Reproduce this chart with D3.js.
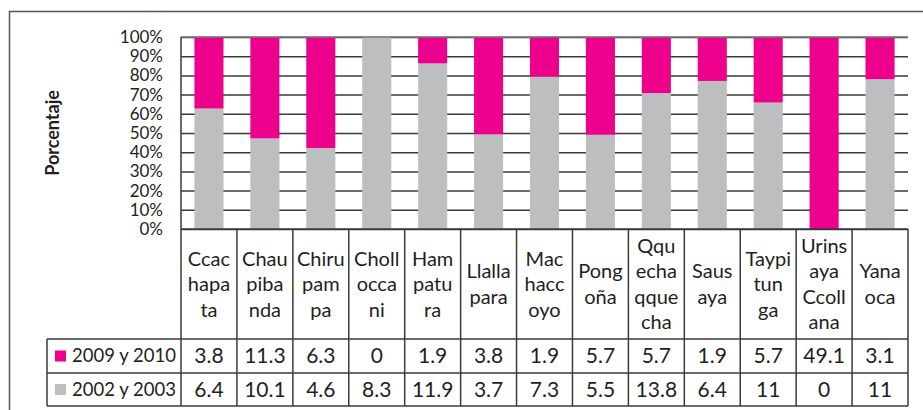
<!DOCTYPE html>
<html>
<head>
<meta charset="utf-8">
<script src="https://cdn.jsdelivr.net/npm/d3@7"></script>
<style>
  body { margin: 0; background: #fff; }
  text { font-family: Lato, "Open Sans", sans-serif; fill: #231f20; }
</style>
</head>
<body>
<svg id="chart" width="923" height="410"></svg>
<script>
// data
const categories = ["Ccac hapa ta", "Chau piba nda", "Chiru pam pa", "Choll occa ni", "Ham patu ra",
  "Llalla para", "Mac hacc oyo", "Pong oña", "Qqu echa qque cha", "Saus aya", "Taypi tun ga",
  "Urins aya Ccoll ana", "Yana oca"];
const series = ["2002 y 2003", "2009 y 2010"];
const v2002 = [6.4, 10.1, 4.6, 8.3, 11.9, 3.7, 7.3, 5.5, 13.8, 6.4, 11, 0, 11];
const v2009 = [3.8, 11.3, 6.3, 0, 1.9, 3.8, 1.9, 5.7, 5.7, 1.9, 5.7, 49.1, 3.1];
const yTicks = [0, 0.1, 0.2, 0.3, 0.4, 0.5, 0.6, 0.7, 0.8, 0.9, 1];

const colors = { "2002 y 2003": "#bcbec0", "2009 y 2010": "#ec008c" };

const margin = { top: 37, right: 15, bottom: 4, left: 181 },
    plotW = 908 - margin.left,
    plotH = 229 - margin.top;

const svg = d3.select("#chart");

// outer frame (runs off the right and bottom edge)
svg.append("rect")
    .attr("x", 9.5).attr("y", 11.5)
    .attr("width", 940).attr("height", 420)
    .attr("fill", "none").attr("stroke", "#555").attr("stroke-width", 1.5);

const g = svg.append("g").attr("transform", "translate(" + margin.left + "," + margin.top + ")");

const rows = categories.map((c, i) => ({ cat: c, "2002 y 2003": v2002[i], "2009 y 2010": v2009[i] }));

const stack = d3.stack().keys(series).offset(d3.stackOffsetExpand);
const stacked = stack(rows);

const x = d3.scaleBand().domain(categories).range([0, plotW]).paddingInner(0.48).paddingOuter(0.24);
const xCell = d3.scaleBand().domain(categories).range([0, plotW]);
const y = d3.scaleLinear().domain([0, 1]).range([plotH, 0]);

// gridlines + tick labels
const yAxis = g.append("g")
    .call(d3.axisLeft(y).tickValues(yTicks).tickSize(-plotW).tickPadding(18).tickFormat(d3.format(".0%")));
yAxis.select(".domain").remove();
yAxis.selectAll(".tick line").attr("stroke", "#3a3a3a").attr("stroke-width", 1.5);
yAxis.selectAll(".tick text").attr("font-size", 17).attr("font-family", "Lato, sans-serif").attr("fill", "#231f20");

// bars
g.selectAll(".layer")
    .data(stacked)
    .enter().append("g")
    .attr("fill", d => colors[d.key])
    .selectAll("rect")
    .data(d => d)
    .enter().append("rect")
    .attr("x", d => x(d.data.cat))
    .attr("width", x.bandwidth())
    .attr("y", d => y(d[1]))
    .attr("height", d => y(d[0]) - y(d[1]));

// top line at 100% drawn above bars like the reference
g.append("line")
    .attr("x1", 0).attr("x2", plotW).attr("y1", 0).attr("y2", 0)
    .attr("stroke", "#777").attr("stroke-width", 1.5);

// left axis line
g.append("line")
    .attr("x1", 0).attr("x2", 0).attr("y1", 0).attr("y2", plotH)
    .attr("stroke", "#3a3a3a").attr("stroke-width", 1.5);

// y title
svg.append("text")
    .attr("transform", "translate(53,133) rotate(-90)")
    .attr("text-anchor", "middle")
    .attr("dy", "0.35em")
    .attr("font-size", 18).attr("font-weight", "bold")
    .text("Porcentaje");

// data table
const tLeft = 47, tLabTop = 229, tRow1 = 339, tRow2 = 373, tBot = 406;
const tbl = svg.append("g").attr("stroke", "#3a3a3a").attr("stroke-width", 1.5);

// horizontal lines
tbl.append("line").attr("x1", margin.left).attr("x2", 908).attr("y1", tLabTop).attr("y2", tLabTop);
[tRow1, tRow2, tBot].forEach(yy =>
  tbl.append("line").attr("x1", tLeft).attr("x2", 908).attr("y1", yy).attr("y2", yy));
tbl.append("line").attr("x1", tLeft).attr("x2", tLeft).attr("y1", tRow1).attr("y2", tBot);

// vertical cell lines
const bounds = categories.map(c => margin.left + xCell(c)).concat([908]);
tbl.selectAll(".vline")
    .data(bounds)
    .enter().append("line")
    .attr("x1", d => d).attr("x2", d => d)
    .attr("y1", tLabTop).attr("y2", tBot);

// category labels (split into syllables as in the source)
const labG = svg.append("g");
categories.forEach(c => {
  const parts = c.split(" ");
  const cx = margin.left + xCell(c) + xCell.bandwidth() / 2;
  const lh = 25.5;
  const mid = (tLabTop + tRow1) / 2;
  const y0 = mid - (parts.length - 1) * lh / 2;
  const t = labG.append("text")
      .attr("text-anchor", "middle")
      .attr("font-size", 20);
  parts.forEach((p, j) => {
    t.append("tspan").attr("x", cx).attr("y", y0 + j * lh).attr("dy", "0.35em").text(p);
  });
});

// value rows
const tableRows = [
  { name: "2009 y 2010", vals: v2009, top: tRow1, bot: tRow2 },
  { name: "2002 y 2003", vals: v2002, top: tRow2, bot: tBot }
];
tableRows.forEach(r => {
  const cy = (r.top + r.bot) / 2;
  svg.append("rect")
      .attr("x", 55).attr("y", cy - 5.5).attr("width", 11).attr("height", 11)
      .attr("fill", colors[r.name]);
  svg.append("text")
      .attr("x", 72).attr("y", cy).attr("dy", "0.35em")
      .attr("font-size", 18.5)
      .text(r.name);
  svg.selectAll(null)
      .data(r.vals)
      .enter().append("text")
      .attr("x", (d, i) => margin.left + xCell(categories[i]) + xCell.bandwidth() / 2)
      .attr("y", cy).attr("dy", "0.35em")
      .attr("text-anchor", "middle")
      .attr("font-size", 21)
      .text(d => d);
});
</script>
</body>
</html>
